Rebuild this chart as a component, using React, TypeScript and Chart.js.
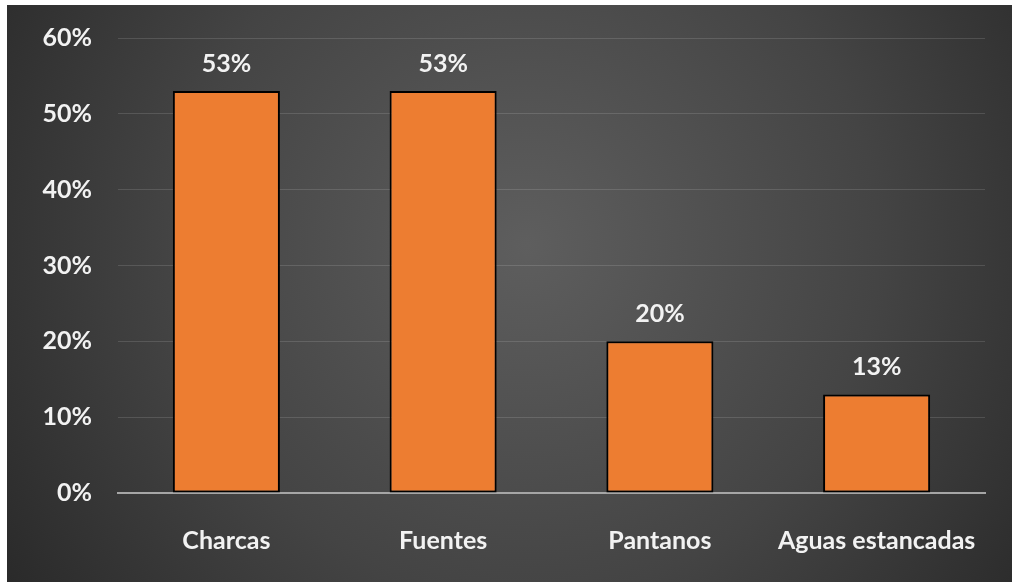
import React, { useEffect, useRef } from "react";
import { Chart, registerables } from "chart.js";

Chart.register(...registerables);

const categories = ["Charcas", "Fuentes", "Pantanos", "Aguas estancadas"];
const values = [53, 53, 20, 13];
const yTicks = [0, 10, 20, 30, 40, 50, 60];

const FONT = "Lato, 'Open Sans', sans-serif";
const FSIZE = 25;

const bgPlugin = {
  id: "bgGradient",
  beforeDraw(chart: any) {
    const { ctx, width, height } = chart;
    ctx.save();
    const g = ctx.createRadialGradient(520, 240, 0, 520, 240, 640);
    g.addColorStop(0, "#5e5e5e");
    g.addColorStop(0.55, "#444444");
    g.addColorStop(1, "#282828");
    ctx.fillStyle = g;
    ctx.fillRect(0, 0, width, height);
    ctx.restore();
  },
};

const labelPlugin = {
  id: "barLabels",
  afterDatasetsDraw(chart: any) {
    const { ctx } = chart;
    const meta = chart.getDatasetMeta(0);
    ctx.save();
    ctx.fillStyle = "#f2f2f2";
    ctx.font = `bold ${FSIZE}px ${FONT}`;
    ctx.textAlign = "center";
    ctx.textBaseline = "middle";
    meta.data.forEach((bar: any, i: number) => {
      ctx.fillText(values[i] + "%", bar.x, bar.y - 27);
    });
    ctx.restore();
  },
};

export default function App() {
  const ref = useRef<HTMLCanvasElement>(null);
  useEffect(() => {
    const chart = new Chart(ref.current!, {
      type: "bar",
      data: {
        labels: categories,
        datasets: [
          {
            data: values,
            backgroundColor: "#ED7D31",
            borderColor: "#000000",
            borderWidth: 2,
            borderSkipped: false,
            barPercentage: 0.494,
            categoryPercentage: 1,
          },
        ],
      },
      options: {
        responsive: false,
        animation: false,
        devicePixelRatio: 1,
        layout: { padding: { top: 33, right: 27, left: 0, bottom: 0 } },
        plugins: { legend: { display: false }, tooltip: { enabled: false } },
        scales: {
          x: {
            grid: { display: false, drawTicks: false },
            border: { display: true, color: "#a6a6a6", width: 2 },
            ticks: {
              color: "#f2f2f2",
              font: { family: FONT, size: FSIZE, weight: "bold" },
              padding: 33,
              maxRotation: 0,
              autoSkip: false,
            },
            afterFit(scale: any) {
              scale.height = 89;
              scale.paddingLeft = 0;
              scale.paddingRight = 0;
            },
          },
          y: {
            min: 0,
            max: 60,
            afterBuildTicks(scale: any) {
              scale.ticks = yTicks.map((v) => ({ value: v }));
            },
            grid: {
              color: (c: any) => (c.tick && c.tick.value === 0 ? "rgba(0,0,0,0)" : "rgba(255,255,255,0.13)"),
              lineWidth: 1,
              drawTicks: false,
            },
            border: { display: false },
            ticks: {
              color: "#f2f2f2",
              font: { family: FONT, size: FSIZE, weight: "bold" },
              padding: 26,
              callback: (v: any) => v + "%",
            },
            afterFit(scale: any) {
              scale.width = 111;
              scale.paddingTop = 0;
              scale.paddingBottom = 0;
            },
          },
        },
      },
      plugins: [bgPlugin, labelPlugin],
    });
    return () => chart.destroy();
  }, []);
  return (
    <div style={{ position: "fixed", left: 0, top: 0, width: 1012, height: 582, background: "#ffffff" }}>
      <canvas
        ref={ref}
        width={1005}
        height={577}
        style={{ position: "absolute", left: 7, top: 5, width: 1005, height: 577 }}
      />
    </div>
  );
}
